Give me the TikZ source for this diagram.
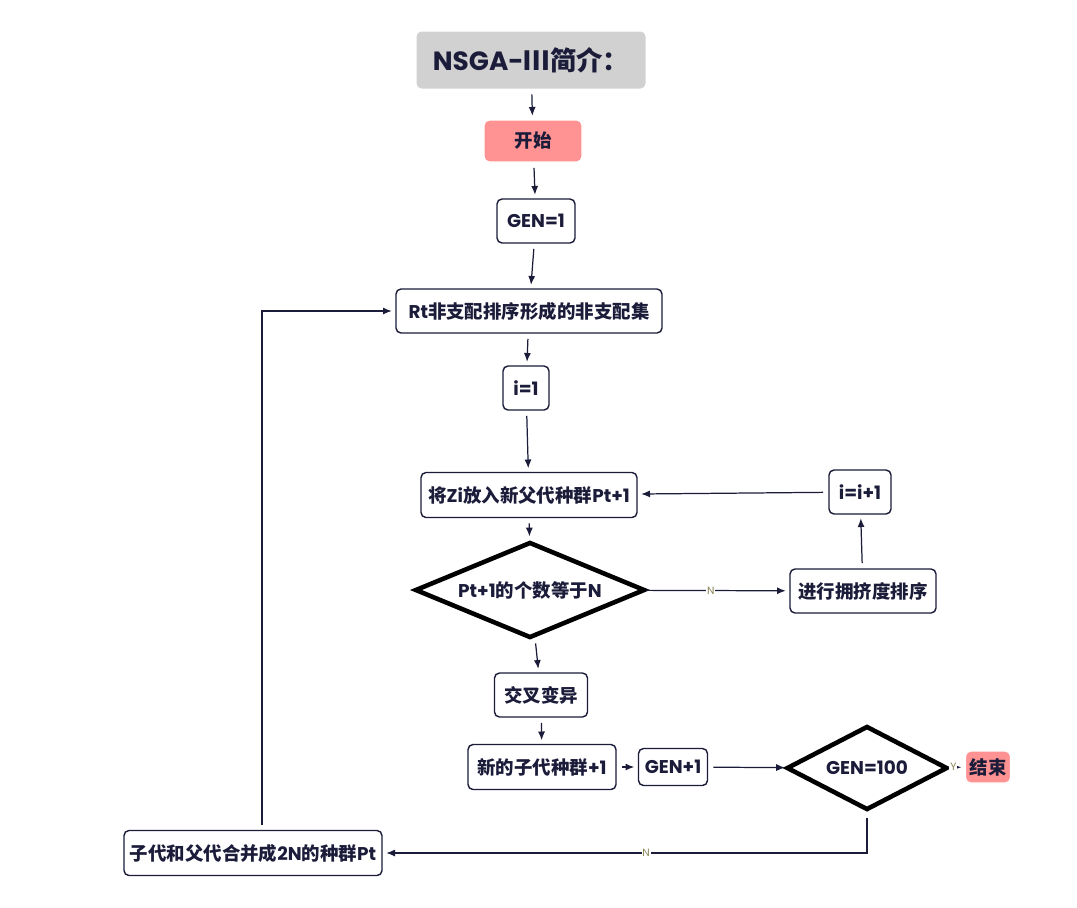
\documentclass[tikz,border=0pt]{standalone}
\usepackage{fontspec}
\setmainfont{Poppins}
\newfontfamily\zhfont{Noto Sans CJK SC}
\newcommand{\zh}[1]{{\zhfont #1}}
\usetikzlibrary{arrows.meta,shapes.geometric}
\definecolor{ink}{HTML}{1B1B3A}
\definecolor{titlegray}{HTML}{D1D1D1}
\definecolor{pinkbox}{HTML}{FF9292}
\definecolor{labelcol}{HTML}{8A8455}

\begin{document}
\begin{tikzpicture}[
x=0.02cm, y=-0.02cm,
font=\fontsize{10.5}{12}\selectfont\bfseries, text=ink,
box/.style={draw=ink, line width=0.8pt, rounded corners=0.1cm, fill=white,
    inner sep=0pt, align=center},
stopbox/.style={box, draw=white, fill=pinkbox},
decision/.style={diamond, draw=black, line width=2.6pt, aspect=2.4,
    inner sep=1pt, fill=white},
flow/.style={draw=ink, line width=0.7pt, -{Latex[length=5pt,width=4pt]},
    shorten >=2pt, shorten <=3pt},
yn/.style={font=\fontsize{6}{7}\selectfont, text=labelcol, fill=white,
    inner sep=0.5pt},
]
\useasboundingbox (0,0) rectangle (1077,907);

% main column
\node (title) [box, draw=none, fill=titlegray, minimum width=229*0.02cm,
    minimum height=57*0.02cm, font=\fontsize{15}{18}\selectfont\bfseries]
    at (531,60) {NSGA-\zh{Ⅲ简介：}};
\node (start) [stopbox, minimum width=98*0.02cm, minimum height=42*0.02cm]
    at (533,141) {\zh{开始}};
\node (gen1) [box, minimum width=78*0.02cm, minimum height=44*0.02cm]
    at (536,221) {GEN=1};
\node (rt) [box, minimum width=266*0.02cm, minimum height=44*0.02cm]
    at (529,311) {Rt\zh{非支配排序形成的非支配集}};
\node (i1) [box, minimum width=46*0.02cm, minimum height=44*0.02cm]
    at (526,388) {i=1};
\node (zi) [box, minimum width=216*0.02cm, minimum height=45*0.02cm]
    at (529,495) {\zh{将}Zi\zh{放入新父代种群}Pt+1};
\node (count) [decision, minimum width=230*0.02cm, minimum height=96*0.02cm]
    at (530,590) {Pt+1\zh{的个数等于}N};
\node (crowd) [box, minimum width=146*0.02cm, minimum height=44*0.02cm]
    at (863,591) {\zh{进行拥挤度排序}};
\node (inc) [box, minimum width=62*0.02cm, minimum height=44*0.02cm]
    at (860,492) {i=i+1};
\node (cross) [box, minimum width=93*0.02cm, minimum height=44*0.02cm]
    at (541,695) {\zh{交叉变异}};
\node (child) [box, minimum width=148*0.02cm, minimum height=45*0.02cm]
    at (542,767) {\zh{新的子代种群}+1};
\node (genp) [box, minimum width=69*0.02cm, minimum height=37*0.02cm]
    at (673,767) {GEN+1};
\node (gen100) [decision, minimum width=161*0.02cm, minimum height=84*0.02cm]
    at (867,768) {GEN=100};
\node (stop) [stopbox, minimum width=45*0.02cm, minimum height=32*0.02cm]
    at (988,767) {\zh{结束}};
\node (merge) [box, minimum width=258*0.02cm, minimum height=45*0.02cm]
    at (253,853) {\zh{子代和父代合并成}2N\zh{的种群}Pt};

% connectors
\draw[flow] (title) -- (start);
\draw[flow] (start) -- (gen1);
\draw[flow] (gen1) -- (rt);
\draw[flow] (rt) -- (i1);
\draw[flow] (i1) -- (zi);
\draw[flow] (zi) -- (count);
\draw[flow] (count) -- (cross);
\draw[flow, shorten <=0pt] (count) -- node[yn, pos=0.45] {N} (crowd);
\draw[flow] (crowd) -- (inc);
\draw[flow] (inc) -- (zi);
\draw[flow] (cross) -- (child);
\draw[flow] (child) -- (genp);
\draw[flow, shorten >=0pt] (genp) -- (gen100);
\draw[flow, shorten <=0pt] (gen100) -- node[yn, pos=0.3] {Y} (stop);
\draw[flow] (gen100.south) |- node[yn, pos=0.728] {N} (merge.east);
\draw[flow] ([xshift=0.18cm]merge.north) |- (rt.west);
\end{tikzpicture}
\end{document}
